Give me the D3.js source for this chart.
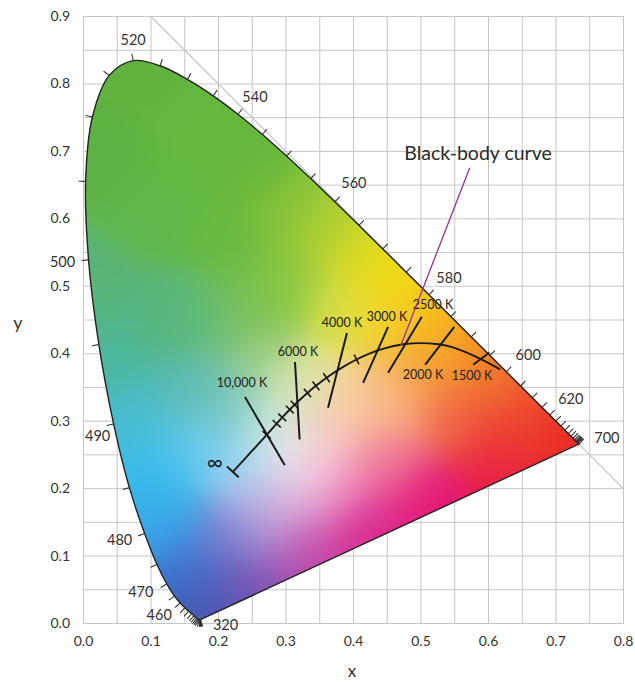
<!DOCTYPE html>
<html><head><meta charset="utf-8">
<script src="https://cdn.jsdelivr.net/npm/d3@7"></script>
<style>html,body{margin:0;padding:0;background:#fff;}svg{display:block;}</style>
</head><body>
<script>
// ---------- DATA ----------
const wavelengths = [380,385,390,395,400,405,410,415,420,425,430,435,440,445,450,455,460,465,470,475,480,485,490,495,500,505,510,515,520,525,530,535,540,545,550,555,560,565,570,575,580,585,590,595,600,605,610,615,620,625,630,635,640,645,650,655,660,665,670,675,680,700];
const locusX = [0.1741,0.1740,0.1738,0.1736,0.1733,0.1730,0.1726,0.1721,0.1714,0.1703,0.1689,0.1669,0.1644,0.1611,0.1566,0.1510,0.1440,0.1355,0.1241,0.1096,0.0913,0.0687,0.0454,0.0235,0.0082,0.0039,0.0139,0.0389,0.0743,0.1142,0.1547,0.1929,0.2296,0.2658,0.3016,0.3373,0.3731,0.4087,0.4441,0.4788,0.5125,0.5448,0.5752,0.6029,0.6270,0.6482,0.6658,0.6801,0.6915,0.7006,0.7079,0.7140,0.7190,0.7230,0.7260,0.7283,0.7300,0.7311,0.7320,0.7327,0.7334,0.7347];
const locusY = [0.0050,0.0050,0.0049,0.0049,0.0048,0.0048,0.0048,0.0048,0.0051,0.0058,0.0069,0.0086,0.0109,0.0138,0.0177,0.0227,0.0297,0.0399,0.0578,0.0868,0.1327,0.2007,0.2950,0.4127,0.5384,0.6548,0.7502,0.8120,0.8338,0.8262,0.8059,0.7816,0.7543,0.7243,0.6923,0.6589,0.6245,0.5896,0.5547,0.5202,0.4866,0.4544,0.4242,0.3965,0.3725,0.3514,0.3340,0.3197,0.3083,0.2993,0.2920,0.2859,0.2809,0.2770,0.2740,0.2717,0.2700,0.2689,0.2680,0.2673,0.2666,0.2653];

const labelledWavelengths = [520,540,560,580,600,620,700,500,490,480,470,460,380];
const labelTexts = ["520","540","560","580","600","620","700","500","490","480","470","460","320"];

// Black-body (Planckian) locus
const planckTemps = ["∞",20000,15000,12000,10000,9000,8000,7000,6500,6000,5500,5000,4500,4000,3500,3000,2500,2000,1800,1500,1250];
const planckX = [0.222,0.250,0.262,0.2721,0.2807,0.2869,0.2952,0.3064,0.3135,0.3221,0.3325,0.3451,0.3608,0.3805,0.4053,0.4369,0.4770,0.5267,0.5493,0.5857,0.618];
const planckY = [0.224,0.2547,0.2679,0.279,0.2884,0.2956,0.3048,0.3165,0.3236,0.3318,0.3411,0.3516,0.3636,0.3768,0.3907,0.4041,0.4137,0.4133,0.4083,0.3931,0.376];
const shortTickTemps = [12000,9000,8000,7000,6500,5500,5000,4500,3500];

// Isotemperature lines
const isoLabels = ["10,000 K","6000 K","4000 K","3000 K","2500 K","2000 K","1500 K"];
const isoX1 = [0.240,0.314,0.391,0.452,0.502,0.550,0.602];
const isoY1 = [0.335,0.387,0.430,0.439,0.454,0.439,0.401];
const isoX2 = [0.299,0.321,0.363,0.415,0.452,0.507,0.578];
const isoY2 = [0.234,0.272,0.319,0.356,0.371,0.383,0.383];

const xTicks = [0,0.1,0.2,0.3,0.4,0.5,0.6,0.7,0.8];
const yTicks = [0,0.1,0.2,0.3,0.4,0.5,0.6,0.7,0.8,0.9];
const gridX = [0,0.05,0.1,0.15,0.2,0.25,0.3,0.35,0.4,0.45,0.5,0.55,0.6,0.65,0.7,0.75,0.8];
const gridY = [0,0.05,0.1,0.15,0.2,0.25,0.3,0.35,0.4,0.45,0.5,0.55,0.6,0.65,0.7,0.75,0.8,0.85,0.9];

// ---------- LAYOUT / STYLE ----------
const W = 635, H = 682;
const FONT = "Lato, 'Open Sans', sans-serif";
const TXT = "#333";
// label offsets (px) from the locus point for each labelled wavelength
const wlLabelOffsets = [[0,-21],[17,-18],[19,-19],[20,-17],[22,-17],[21,-17],[28,-7],[-26,2],[-16,11],[-25,6],[-26,7],[-21,12],[25,5]];
// iso label centres in chart units
const isoLabelPos = [[0.2356,0.356],[0.3185,0.402],[0.3837,0.445],[0.4504,0.454],[0.5185,0.472],[0.5037,0.368],[0.5763,0.3665]];
// colour anchors for the chromaticity fill [x, y, colour]
const colorAnchors = [
 [0.08,0.80,"#62b23e"],[0.03,0.70,"#5cb244"],[0.15,0.72,"#64b83e"],[0.25,0.68,"#66b83c"],
 [0.10,0.60,"#60b648"],[0.22,0.56,"#68ba40"],[0.31,0.61,"#86c23a"],[0.30,0.50,"#8cc840"],
 [0.37,0.58,"#b8d232"],[0.43,0.54,"#e2dc1c"],[0.47,0.50,"#f4dc10"],[0.51,0.465,"#f8c418"],
 [0.54,0.43,"#f6a820"],[0.45,0.45,"#f4d430"],[0.38,0.46,"#d8e048"],[0.58,0.39,"#f48a28"],
 [0.50,0.39,"#f5a43a"],[0.63,0.35,"#f06830"],[0.68,0.30,"#ec4228"],[0.725,0.268,"#e82424"],
 [0.62,0.28,"#ec4032"],[0.55,0.31,"#f06848"],[0.62,0.225,"#e81c48"],[0.51,0.18,"#e41878"],
 [0.42,0.14,"#d82890"],[0.45,0.24,"#f07898"],[0.37,0.20,"#ef94c4"],[0.33,0.11,"#c448a8"],
 [0.26,0.06,"#8c52b2"],[0.21,0.025,"#5a54b2"],[0.175,0.02,"#4058b0"],[0.15,0.07,"#3a76d0"],
 [0.12,0.15,"#38a8e8"],[0.11,0.22,"#34bcec"],[0.075,0.30,"#48bcd0"],[0.045,0.40,"#4cb89c"],
 [0.025,0.50,"#58b478"],[0.17,0.26,"#6ccaee"],[0.16,0.35,"#58bab0"],[0.19,0.45,"#62ba78"],
 [0.12,0.45,"#58b67c"],[0.25,0.47,"#78c050"],[0.22,0.33,"#7cc8c0"],
 [0.26,0.40,"#9ccc80"],[0.32,0.355,"#e0e8a8"],[0.285,0.295,"#c8e8e0"],[0.315,0.235,"#faf2f6"],
 [0.24,0.225,"#9cd6f2"],[0.26,0.15,"#b0a4dc"],[0.36,0.28,"#f8c8c0"],[0.41,0.33,"#f8d2a0"],
 [0.46,0.33,"#f8b07c"],[0.21,0.12,"#6c78d0"],[0.30,0.18,"#e0b0dc"]
];

// ---------- SCALES ----------
const x = d3.scaleLinear().domain([0,0.8]).range([83,623]);
const y = d3.scaleLinear().domain([0,0.9]).range([623,16]);

const svg = d3.select("body").append("svg").attr("width",W).attr("height",H)
  .style("font-family",FONT);
svg.append("rect").attr("width",W).attr("height",H).attr("fill","#fff");

// ---------- GRID ----------
const gGridX = svg.append("g").attr("transform",`translate(0,${y(0)})`)
  .call(d3.axisBottom(x).tickValues(gridX).tickSize(-(y(0)-y(0.9))).tickSizeOuter(0).tickFormat(""));
const gGridY = svg.append("g").attr("transform",`translate(${x(0)},0)`)
  .call(d3.axisLeft(y).tickValues(gridY).tickSize(-(x(0.8)-x(0))).tickSizeOuter(0).tickFormat(""));
[gGridX,gGridY].forEach(g=>{
  g.selectAll("line").attr("stroke","#c6c6c6").attr("stroke-width",1);
  g.select(".domain").attr("stroke","#c6c6c6");
});
// diagonal x + y = 1
svg.append("line").attr("x1",x(0.1)).attr("y1",y(0.9)).attr("x2",x(0.8)).attr("y2",y(0.2))
  .attr("stroke","#c6c6c6").attr("stroke-width",1.3);

// ---------- AXIS LABELS ----------
const axX = svg.append("g").attr("transform",`translate(0,${y(0)})`)
  .call(d3.axisBottom(x).tickValues(xTicks).tickSize(0).tickPadding(13).tickFormat(d3.format(".1f")));
const axY = svg.append("g").attr("transform",`translate(${x(0)},0)`)
  .call(d3.axisLeft(y).tickValues(yTicks).tickSize(0).tickPadding(13).tickFormat(d3.format(".1f")));
[axX,axY].forEach(g=>{
  g.select(".domain").remove();
  g.selectAll("text").attr("font-size",14).attr("fill",TXT).style("font-family",FONT);
});
svg.append("text").attr("x",352).attr("y",677).attr("text-anchor","middle")
  .attr("font-size",17).attr("fill",TXT).text("x");
svg.append("text").attr("x",18).attr("y",329).attr("text-anchor","middle")
  .attr("font-size",18).attr("fill",TXT).text("y");

// ---------- COLOUR FILL ----------
const locusPts = wavelengths.map((w,i)=>[x(locusX[i]),y(locusY[i])]);
const lineGen = d3.line().curve(d3.curveCatmullRom.alpha(0.5));
const locusPath = lineGen(locusPts) + "Z";

svg.append("clipPath").attr("id","locusClip").append("path").attr("d",locusPath);

const bx0 = Math.floor(x(0)), bx1 = Math.ceil(x(0.75)), by0 = Math.floor(y(0.85)), by1 = Math.ceil(y(0));
const cw = bx1-bx0, ch = by1-by0;
const canvas = document.createElement("canvas");
canvas.width = cw; canvas.height = ch;
const ctx = canvas.getContext("2d");
const img = ctx.createImageData(cw,ch);
const anc = colorAnchors.map(a=>{const c=d3.rgb(a[2]);return [a[0],a[1],c.r,c.g,c.b];});
const s2 = 2*0.04*0.04;
for(let py=0;py<ch;py++){
  const cy = y.invert(by0+py+0.5);
  for(let px=0;px<cw;px++){
    const cx = x.invert(bx0+px+0.5);
    let sw=0,r=0,g=0,b=0;
    for(const a of anc){
      const dx=cx-a[0], dy=cy-a[1];
      const w=Math.exp(-(dx*dx+dy*dy)/s2)+1e-12;
      sw+=w; r+=w*a[2]; g+=w*a[3]; b+=w*a[4];
    }
    const k=(py*cw+px)*4;
    img.data[k]=r/sw; img.data[k+1]=g/sw; img.data[k+2]=b/sw; img.data[k+3]=255;
  }
}
ctx.putImageData(img,0,0);
svg.append("image").attr("x",bx0).attr("y",by0).attr("width",cw).attr("height",ch)
  .attr("href",canvas.toDataURL()).attr("clip-path","url(#locusClip)");

// locus outline
svg.append("path").attr("d",locusPath).attr("fill","none").attr("stroke","#222").attr("stroke-width",1.4);

// locus ticks (outward normals)
const ticks = svg.append("g").attr("stroke","#333").attr("stroke-width",1.1);
wavelengths.forEach((w,i)=>{
  const a = locusPts[Math.max(0,i-1)], b = locusPts[Math.min(locusPts.length-1,i+1)];
  let tx=b[0]-a[0], ty=b[1]-a[1]; const L=Math.hypot(tx,ty)||1; tx/=L; ty/=L;
  const nx=ty, ny=-tx;
  const p=locusPts[i], len=7;
  ticks.append("line").attr("x1",p[0]).attr("y1",p[1]).attr("x2",p[0]+nx*len).attr("y2",p[1]+ny*len);
});

// wavelength labels
labelledWavelengths.forEach((w,i)=>{
  const j = wavelengths.indexOf(w); const p = locusPts[j]; const o = wlLabelOffsets[i];
  svg.append("text").attr("x",p[0]+o[0]).attr("y",p[1]+o[1]).attr("text-anchor","middle")
    .attr("dominant-baseline","central").attr("font-size",14.5).attr("fill",TXT).text(labelTexts[i]);
});

// ---------- BLACK-BODY CURVE ----------
const pPts = planckTemps.map((t,i)=>[x(planckX[i]),y(planckY[i])]);
svg.append("path").attr("d",lineGen(pPts)).attr("fill","none").attr("stroke","#1a1a1a").attr("stroke-width",1.9);
// end cap at infinity
{
  const a=pPts[0], b=pPts[1]; let tx=b[0]-a[0], ty=b[1]-a[1]; const L=Math.hypot(tx,ty); tx/=L; ty/=L;
  const h=8;
  svg.append("line").attr("x1",a[0]-ty*h).attr("y1",a[1]+tx*h).attr("x2",a[0]+ty*h).attr("y2",a[1]-tx*h)
    .attr("stroke","#1a1a1a").attr("stroke-width",1.9);
}
// short ticks
shortTickTemps.forEach(t=>{
  const i = planckTemps.indexOf(t);
  const a=pPts[i-1], b=pPts[i+1]; let tx=b[0]-a[0], ty=b[1]-a[1]; const L=Math.hypot(tx,ty); tx/=L; ty/=L;
  const h=5.5, p=pPts[i];
  svg.append("line").attr("x1",p[0]-ty*h).attr("y1",p[1]+tx*h).attr("x2",p[0]+ty*h).attr("y2",p[1]-tx*h)
    .attr("stroke","#1a1a1a").attr("stroke-width",1.6);
});
// iso-temperature lines
isoLabels.forEach((lab,i)=>{
  svg.append("line").attr("x1",x(isoX1[i])).attr("y1",y(isoY1[i])).attr("x2",x(isoX2[i])).attr("y2",y(isoY2[i]))
    .attr("stroke","#1a1a1a").attr("stroke-width",2);
  svg.append("text").attr("x",x(isoLabelPos[i][0])).attr("y",y(isoLabelPos[i][1])).attr("text-anchor","middle")
    .attr("dominant-baseline","central").attr("font-size",12.5).attr("fill","#222").text(lab);
});
// infinity label
svg.append("text").attr("x",pPts[0][0]-18).attr("y",pPts[0][1]-10).attr("text-anchor","middle")
  .attr("dominant-baseline","central").attr("font-size",22).attr("fill","#222").text("∞");

// pointer + title
svg.append("line").attr("x1",x(0.573)).attr("y1",y(0.675)).attr("x2",x(0.471)).attr("y2",y(0.412))
  .attr("stroke","#9a3d98").attr("stroke-width",1.4);
svg.append("text").attr("x",478).attr("y",152).attr("text-anchor","middle").attr("dominant-baseline","central")
  .attr("font-size",19.5).attr("fill","#2a2a2a").text("Black-body curve");
</script>
</body></html>
